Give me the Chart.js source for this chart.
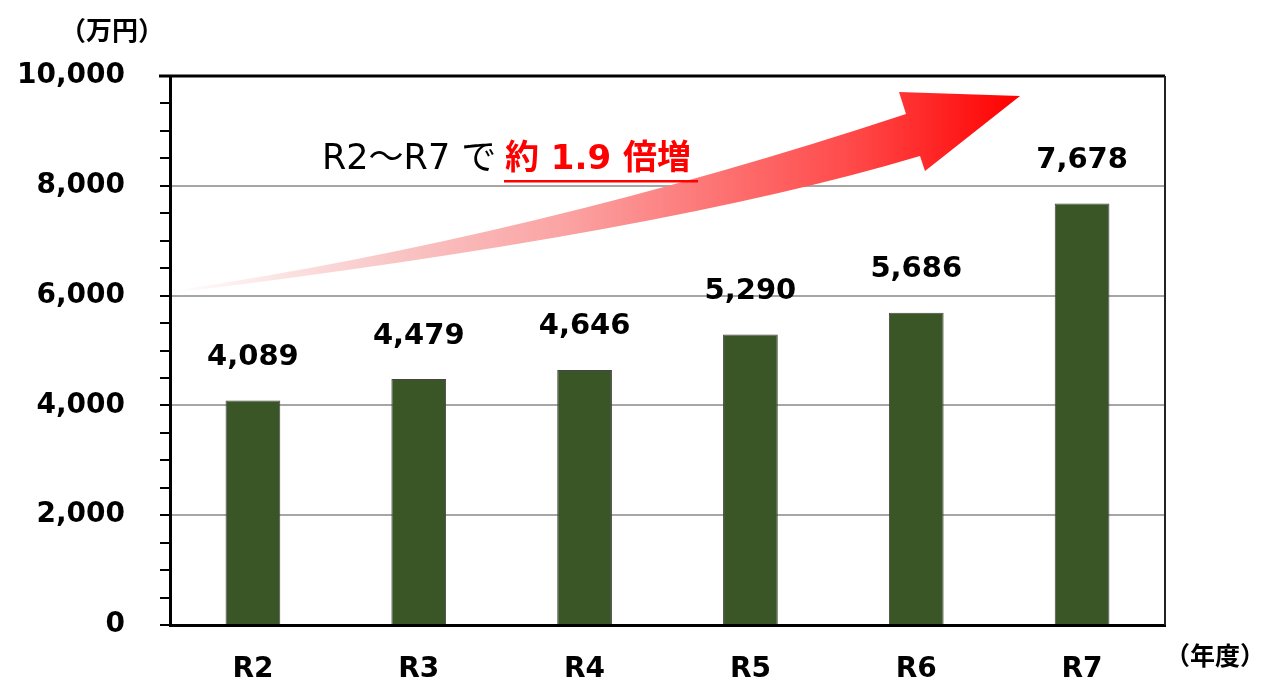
<!DOCTYPE html>
<html>
<head>
<meta charset="utf-8">
<script src="https://cdn.jsdelivr.net/npm/chart.js@4.4.1/dist/chart.umd.min.js"></script>
<style>
  html, body { margin: 0; padding: 0; background: #fff; }
  #wrap { width: 1261px; height: 682px; position: relative; }
</style>
</head>
<body>
<div id="wrap"><canvas id="bar-chart"></canvas></div>
<script>
// data
const years = ["R2", "R3", "R4", "R5", "R6", "R7"];
const amounts = [4089, 4479, 4646, 5290, 5686, 7678];
const yMin = 0;
const yMax = 10000;
const yStep = 500;       // minor tick step
const yLabelStep = 2000; // labelled ticks / grid lines

const numFont = "'DejaVu Sans', Verdana, sans-serif";
const jpFont = "'Noto Sans CJK JP', 'Noto Sans', sans-serif";
const mixFont = "'DejaVu Sans', 'Noto Sans CJK JP', sans-serif";

// value labels over each bar
const valueLabels = {
  id: "valueLabels",
  afterDatasetsDraw(chart) {
    const ctx = chart.ctx;
    const meta = chart.getDatasetMeta(0);
    ctx.save();
    ctx.font = "bold 29px " + numFont;
    ctx.fillStyle = "#000";
    ctx.textAlign = "center";
    ctx.textBaseline = "middle";
    meta.data.forEach((bar, i) => {
      ctx.fillText(amounts[i].toLocaleString("en-US"), bar.x, bar.y - 43);
    });
    ctx.restore();
  }
};

// frame, unit captions, growth arrow and note
const decorations = {
  id: "decorations",
  afterDatasetsDraw(chart) {
    const ctx = chart.ctx;
    const a = chart.chartArea;
    ctx.save();

    // top + right frame
    ctx.strokeStyle = "#000";
    ctx.lineWidth = 3;
    ctx.beginPath();
    ctx.moveTo(a.left - 11, a.top);
    ctx.lineTo(a.right, a.top);
    ctx.stroke();
    ctx.strokeStyle = "#222";
    ctx.lineWidth = 2;
    ctx.beginPath();
    ctx.moveTo(a.right, a.top);
    ctx.lineTo(a.right, a.bottom);
    ctx.stroke();

    // growth arrow
    const g = ctx.createLinearGradient(a.left, 0, 1020, 0);
    g.addColorStop(0, "#FFFFFF");
    g.addColorStop(0.27, "#F9C4C4");
    g.addColorStop(0.46, "#FBA4A4");
    g.addColorStop(0.8, "#FF4A4A");
    g.addColorStop(1, "#FF0000");
    ctx.fillStyle = g;
    ctx.beginPath();
    ctx.moveTo(a.left + 2, 291);
    ctx.quadraticCurveTo(534, 237, 906, 114);
    ctx.lineTo(899, 92);
    ctx.lineTo(1020, 96);
    ctx.lineTo(925, 171);
    ctx.lineTo(920, 156);
    ctx.quadraticCurveTo(663, 233, a.left + 2, 293);
    ctx.closePath();
    ctx.fill();

    // note text
    ctx.textBaseline = "alphabetic";
    ctx.textAlign = "left";
    ctx.fillStyle = "#000";
    ctx.font = "35px " + mixFont;
    ctx.fillText("R2〜R7 で", 322, 169);
    ctx.fillStyle = "#FF0000";
    ctx.font = "bold 34px " + mixFont;
    ctx.fillText("約 1.9 倍増", 505, 169);
    ctx.fillRect(504, 180, 194, 2.5);

    // unit captions
    ctx.fillStyle = "#000";
    ctx.font = "bold 26px " + jpFont;
    ctx.textAlign = "center";
    ctx.textBaseline = "middle";
    ctx.fillText("（万円）", 112, 30);
    ctx.font = "bold 25px " + jpFont;
    ctx.fillText("（年度）", 1215, 655);

    ctx.restore();
  }
};

const ctx = document.getElementById("bar-chart").getContext("2d");
new Chart(ctx, {
  type: "bar",
  data: {
    labels: years,
    datasets: [
      {
        data: amounts,
        backgroundColor: "#3B5626",
        borderColor: "#454545",
        borderWidth: 1,
        categoryPercentage: 1,
        barPercentage: 0.33,
      },
    ],
  },
  options: {
    responsive: true,
    maintainAspectRatio: false,
    animation: false,
    layout: {
      padding: { top: 76, right: 96, left: 0, bottom: 0 },
    },
    plugins: {
      legend: { display: false },
      title: { display: false },
      tooltip: { enabled: false },
    },
    scales: {
      x: {
        afterFit: (s) => { s.height = 57; },
        grid: { display: false, drawTicks: false },
        border: { color: "#000", width: 3 },
        ticks: {
          color: "#000",
          padding: 28,
          font: { family: numFont, size: 28, weight: "bold" },
        },
      },
      y: {
        min: yMin,
        max: yMax,
        afterFit: (s) => { s.width = 170; },
        border: { color: "#000", width: 3 },
        grid: {
          color: (c) => (c.tick && c.tick.value % yLabelStep === 0 ? "#A6A6A6" : "rgba(0,0,0,0)"),
          lineWidth: 2,
          tickColor: "#000",
          tickWidth: 2,
          tickLength: 10,
        },
        ticks: {
          stepSize: yStep,
          autoSkip: false,
          color: "#000",
          padding: 35,
          font: { family: numFont, size: 28, weight: "bold" },
          callback: (v) => (v % yLabelStep === 0 ? v.toLocaleString("en-US") : ""),
        },
      },
    },
  },
  plugins: [valueLabels, decorations],
});
</script>
</body>
</html>
